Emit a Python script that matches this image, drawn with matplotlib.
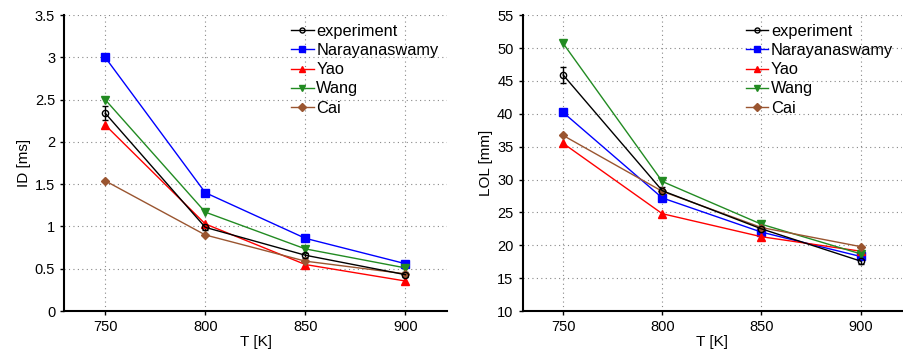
import matplotlib
matplotlib.use("Agg")
import matplotlib.pyplot as plt

# ── DATA ─────────────────────────────────────────────

temps = [750, 800, 850, 900]

id_experiment = [2.34, 0.99, 0.66, 0.43]
id_experiment_err = [0.08, 0.03, 0.03, 0.03]
id_narayanaswamy = [3.00, 1.40, 0.86, 0.56]
id_yao = [2.20, 1.03, 0.55, 0.355]
id_wang = [2.50, 1.17, 0.735, 0.51]
id_cai = [1.54, 0.90, 0.59, 0.44]

lol_experiment = [45.9, 28.3, 22.5, 17.6]
lol_experiment_err = [1.2, 0.5, 0.4, 0.4]
lol_narayanaswamy = [40.2, 27.2, 22.0, 18.3]
lol_yao = [35.5, 24.8, 21.3, 19.1]
lol_wang = [50.7, 29.7, 23.2, 18.7]
lol_cai = [36.7, 28.2, 22.7, 19.8]

labels = ["experiment", "Narayanaswamy", "Yao", "Wang", "Cai"]
colors = ["black", "#0000ff", "#ff0000", "#228b22", "#9a5530"]
markers = ["o", "s", "^", "v", "D"]

# ── PLOT ─────────────────────────────────────────────

plt.rcParams["font.family"] = ["Liberation Sans", "DejaVu Sans"]
plt.rcParams["font.size"] = 10

fig = plt.figure(figsize=(9.04, 3.6), dpi=100)
ax1 = fig.add_axes([0.071, 0.136, 0.424, 0.822])
ax2 = fig.add_axes([0.578, 0.136, 0.42, 0.822])


def draw(ax, exp, err, models, ylim, yticks, ylabel):
    handles = []
    eb = ax.errorbar(temps, exp, yerr=err, color=colors[0], marker="o", ms=4.5,
                     mfc="none", mew=1, lw=1, capsize=2.5, label=labels[0])
    handles.append(eb[0])
    for vals, lab, col, mk in zip(models, labels[1:], colors[1:], markers[1:]):
        ms = 4.5 if mk == "D" else 5.5
        line, = ax.plot(temps, vals, color=col, marker=mk, ms=ms, lw=1, label=lab)
        handles.append(line)
    ax.set_xlim(729.5, 921)
    ax.set_ylim(*ylim)
    ax.set_xticks(temps)
    ax.set_yticks(yticks)
    ax.set_yticklabels([f"{t:g}" for t in yticks])
    ax.grid(True, ls=(0, (1, 3)), color="#888888", lw=0.8)
    ax.set_axisbelow(True)
    for s in ["top", "right"]:
        ax.spines[s].set_visible(False)
    for s in ["left", "bottom"]:
        ax.spines[s].set_linewidth(1.5)
    ax.tick_params(direction="out", length=3, width=1, labelsize=10.5)
    ax.set_xlabel("T [K]", fontsize=11, labelpad=1)
    ax.set_ylabel(ylabel, fontsize=11, labelpad=3)
    ax.legend(handles=handles, labels=labels, loc="upper right", frameon=False,
              fontsize=11.8, handlelength=1.4, handletextpad=0.15,
              labelspacing=0.25, borderaxespad=0.15, markerscale=0.8)


draw(ax1, id_experiment, id_experiment_err,
     [id_narayanaswamy, id_yao, id_wang, id_cai],
     (0, 3.5), [0, 0.5, 1, 1.5, 2, 2.5, 3, 3.5], "ID [ms]")
draw(ax2, lol_experiment, lol_experiment_err,
     [lol_narayanaswamy, lol_yao, lol_wang, lol_cai],
     (10, 55), list(range(10, 56, 5)), "LOL [mm]")

fig.savefig("out.png", dpi=100)
